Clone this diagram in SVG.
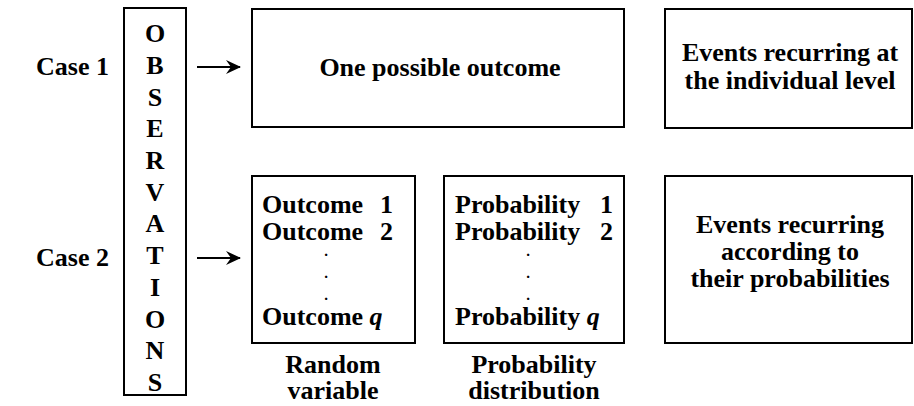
<svg xmlns="http://www.w3.org/2000/svg" width="914" height="406" viewBox="0 0 914 406">
<defs>
<style>
.box{fill:#fff;stroke:#000;stroke-width:2}
text{font-family:"Liberation Serif","Times New Roman",serif;font-weight:bold;font-size:26px;fill:#000}
.c{text-anchor:middle}
.dot{text-anchor:middle;font-size:15px}
.conn{stroke:#000;stroke-width:2;fill:none}
</style>
<marker id="ah" markerWidth="16" markerHeight="14" refX="14" refY="7" orient="auto" markerUnits="userSpaceOnUse">
<path d="M0,0 L15,7 L0,14 L5,7 Z" fill="#000"/>
</marker>
</defs>
<rect width="914" height="406" fill="#fff"/>
<g id="case1"><text x="36" y="75">Case 1</text></g>
<g id="case2"><text x="36" y="266">Case 2</text></g>
<g id="observations">
<rect class="box" x="124" y="8" width="62" height="387"/>
<text class="c" x="155" y="42">O</text>
<text class="c" x="155" y="74">B</text>
<text class="c" x="155" y="106">S</text>
<text class="c" x="155" y="137">E</text>
<text class="c" x="155" y="169">R</text>
<text class="c" x="155" y="201">V</text>
<text class="c" x="155" y="232">A</text>
<text class="c" x="155" y="264">T</text>
<text class="c" x="155" y="296">I</text>
<text class="c" x="155" y="328">O</text>
<text class="c" x="155" y="359">N</text>
<text class="c" x="155" y="391">S</text>
</g>
<g id="connectors">
<line class="conn" x1="197" y1="67" x2="240" y2="67" marker-end="url(#ah)"/>
<line class="conn" x1="197" y1="258" x2="240" y2="258" marker-end="url(#ah)"/>
</g>
<g id="one-outcome">
<rect class="box" x="252" y="9" width="372" height="118"/>
<text class="c" x="440" y="76">One possible outcome</text>
</g>
<g id="random-variable">
<rect class="box" x="252" y="176" width="163" height="167"/>
<text x="262" y="213">Outcome</text><text x="380" y="213">1</text>
<text x="262" y="240">Outcome</text><text x="380" y="240">2</text>
<text class="dot" x="326" y="256">.</text>
<text class="dot" x="326" y="278">.</text>
<text class="dot" x="326" y="300">.</text>
<text x="262" y="325">Outcome <tspan font-style="italic">q</tspan></text>
<text class="c" x="333" y="373">Random</text>
<text class="c" x="333" y="399">variable</text>
</g>
<g id="probability-distribution">
<rect class="box" x="444" y="176" width="180" height="167"/>
<text x="455" y="213">Probability</text><text x="600" y="213">1</text>
<text x="455" y="240">Probability</text><text x="600" y="240">2</text>
<text class="dot" x="528" y="256">.</text>
<text class="dot" x="528" y="278">.</text>
<text class="dot" x="528" y="300">.</text>
<text x="455" y="325">Probability <tspan font-style="italic">q</tspan></text>
<text class="c" x="534" y="373">Probability</text>
<text class="c" x="534" y="399">distribution</text>
</g>
<g id="events-individual">
<rect class="box" x="665" y="9" width="247" height="119"/>
<text class="c" x="790" y="61">Events recurring at</text>
<text class="c" x="790" y="89">the individual level</text>
</g>
<g id="events-probabilities">
<rect class="box" x="665" y="176" width="247" height="167"/>
<text class="c" x="790" y="233">Events recurring</text>
<text class="c" x="790" y="260">according to</text>
<text class="c" x="790" y="287">their probabilities</text>
</g>
</svg>
